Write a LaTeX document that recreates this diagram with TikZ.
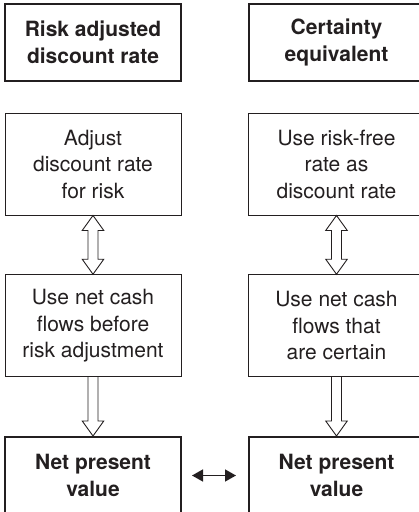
\documentclass[tikz,border=0pt]{standalone}
\usepackage{fontspec}
\setmainfont{TeX Gyre Heros}
\usetikzlibrary{calc,arrows.meta}
\definecolor{ink}{HTML}{231F20}
\tikzset{
  basebox/.style={draw=ink, text=ink, align=center, minimum width=176pt,
    inner sep=0pt, font=\fontsize{21}{26.5}\selectfont},
  headbox/.style={basebox, line width=2pt, minimum height=77pt,
    font=\fontsize{21}{26.5}\selectfont\bfseries},
  stepbox/.style={basebox, line width=0.9pt, minimum height=102pt},
  hollowarrow/.style={draw=ink, line width=0.9pt, line join=miter},
  linkarrow/.style={draw=ink, line width=1.5pt,
    {Triangle[length=11pt,width=12pt]}-{Triangle[length=11pt,width=12pt]}}
}
\begin{document}
\begin{tikzpicture}[x=1pt,y=-1pt]
  \useasboundingbox (0,0) rectangle (419,512);

  % left column: risk adjusted discount rate
  \node[headbox] (lt) at (93,42.5) {Risk adjusted\\discount rate};
  \node[stepbox] (l1) at (93,164) {Adjust\\discount rate\\for risk};
  \node[stepbox] (l2) at (93,325.7) {Use net cash\\flows before\\risk adjustment};
  \node[headbox] (lb) at (93,475.5) {Net present\\value};

  % right column: certainty equivalent
  \node[headbox] (rt) at (336.5,42.5) {Certainty\\equivalent};
  \node[stepbox] (r1) at (336.5,164) {Use risk-free\\rate as\\discount rate};
  \node[stepbox] (r2) at (336.5,325.7) {Use net cash\\flows that\\are certain};
  \node[headbox] (rb) at (336.5,475.5) {Net present\\value};

  % hollow double arrows between the first two steps
  \foreach \a/\b in {l1/l2, r1/r2}{
    \draw[hollowarrow] (\a.south) -- ++(10.75,15) -- ++(-5.75,0)
      -- ($(\b.north)+(5,-15)$) -- ++(5.75,0) -- (\b.north)
      -- ++(-10.75,-15) -- ++(5.75,0)
      -- ($(\a.south)+(-5,15)$) -- ++(-5.75,0) -- cycle;
  }

  % hollow single arrows into the result boxes
  \foreach \a/\b in {l2/lb, r2/rb}{
    \draw[hollowarrow] ($(\a.south)+(-5,0)$) -- ($(\b.north)+(-5,-15)$)
      -- ++(-5.75,0) -- (\b.north) -- ++(10.75,-15) -- ++(-5.75,0)
      -- ($(\a.south)+(5,0)$);
  }

  % equivalence of the two results
  \draw[linkarrow, shorten <=10pt, shorten >=11.5pt] (lb.east) -- (rb.west);
\end{tikzpicture}
\end{document}
